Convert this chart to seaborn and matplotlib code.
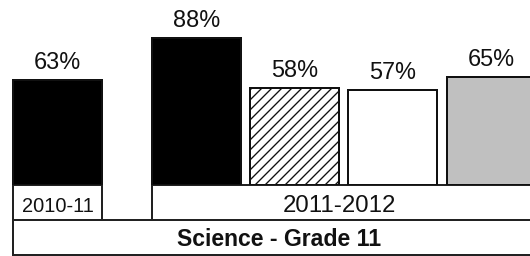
import matplotlib
matplotlib.use("Agg")
import matplotlib.pyplot as plt
from matplotlib import font_manager
from matplotlib.patches import Rectangle
import seaborn as sns
import pandas as pd

# ---- data ----
series = ["School 2010-11", "School 2011-12", "Comparison A", "Comparison B", "Comparison C"]
values = [63, 88, 58, 57, 65]
year_labels = ["2010-11", "2011-2012"]
subject_label = "Science - Grade 11"

# ---- styles / layout (pixel units, figure is 530x256) ----
fills = ["#000000", "#000000", "#ffffff", "#ffffff", "#c0c0c0"]
hatches = [None, None, "////", None, None]
centers = [57.5, 196.5, 294.5, 392.5, 491.5]
bar_w = 89.0
base_y = 185.0
px_per_pct = 1.667
DPI = 120

sns.set_style("white")
plt.rcParams["font.family"] = ["Liberation Sans", "DejaVu Sans"]
plt.rcParams["hatch.color"] = "#111111"
plt.rcParams["hatch.linewidth"] = 0.8

names = {f.name for f in font_manager.fontManager.ttflist}
narrow = "Liberation Sans Narrow" if "Liberation Sans Narrow" in names else None

def pt(px):
    return px * 72.0 / DPI

fig = plt.figure(figsize=(530 / DPI, 256 / DPI), dpi=DPI)
fig.patch.set_facecolor("white")

# table / frame axes in pixel coordinates
tax = fig.add_axes([0, 0, 1, 1])
tax.set_xlim(0, 530)
tax.set_ylim(256, 0)
tax.axis("off")

# bar axes
bax = fig.add_axes([0, (256 - base_y) / 256, 1, base_y / 256])
bax.patch.set_alpha(0)

df = pd.DataFrame({"pos": centers, "value": values, "series": series})
sns.barplot(data=df, x="pos", y="value", hue="series", hue_order=series,
            palette=dict(zip(series, fills)), native_scale=True,
            width=bar_w / 98.0, dodge=False, legend=False,
            edgecolor="#111111", linewidth=pt(2.0), ax=bax, saturation=1)

for p, h in zip(bax.patches, hatches):
    if h:
        p.set_hatch(h)

bax.set_xlim(0, 530)
bax.set_ylim(0, base_y / px_per_pct)
bax.axis("off")

for x, v in zip(centers, values):
    bax.annotate(f"{v}%", xy=(x, v), xytext=(0, pt(11)), textcoords="offset points",
                 ha="center", va="baseline", fontsize=pt(23.5), color="#111111")

# table rows
lw = pt(2.0)
ec = "#222222"
tax.add_patch(Rectangle((13, base_y), 102 - 13, 35, fill=False, lw=lw, ec=ec))
tax.add_patch(Rectangle((152, base_y), 600, 35, fill=False, lw=lw, ec=ec))
tax.add_patch(Rectangle((13, 220), 600, 35, fill=False, lw=lw, ec=ec))

tax.text(57.5, 212, year_labels[0], ha="center", va="baseline",
         fontsize=pt(20), color="#111111")
if narrow:
    tax.text(339.5, 211.7, year_labels[1], ha="center", va="baseline",
             fontsize=pt(27.5), family=narrow, color="#111111")
else:
    tax.text(339.5, 211.7, year_labels[1], ha="center", va="baseline",
             fontsize=pt(24), color="#111111")
tax.text(279.2, 246.5, subject_label, ha="center", va="baseline",
         fontsize=pt(23), fontweight="bold", color="#111111")

fig.savefig("out.png", dpi=DPI)
